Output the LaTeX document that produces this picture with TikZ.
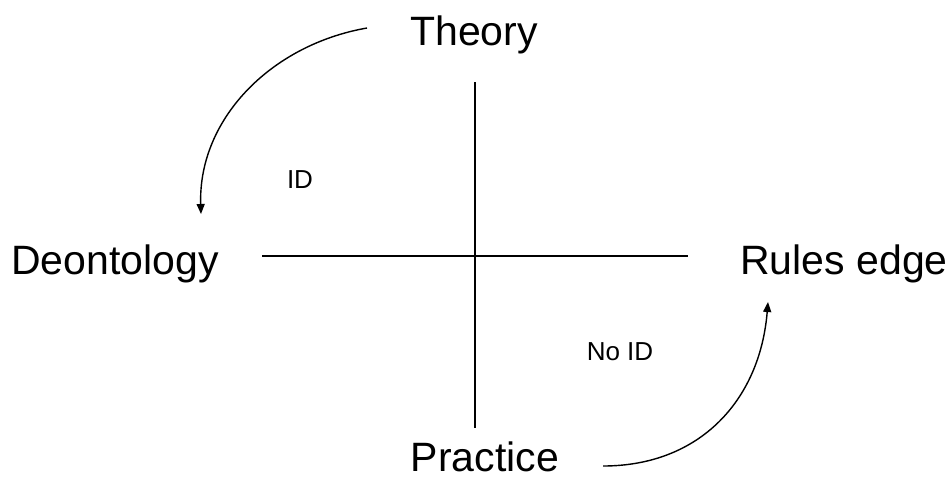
\documentclass[tikz,border=0pt]{standalone}
\usepackage{fontspec}
\setmainfont{Liberation Sans}
\usetikzlibrary{arrows.meta}

\tikzset{
  bigword/.style={font=\fontsize{41}{49}\selectfont, anchor=base, inner sep=0pt},
  smallword/.style={font=\fontsize{26}{31}\selectfont, anchor=base, inner sep=0pt},
  turn/.style={line width=1.4pt, -{Triangle[length=10pt,width=8pt]}}
}

\begin{document}
\begin{tikzpicture}[x=1pt,y=-1pt]
   \useasboundingbox (0,0) rectangle (952,480);
   % labels at the four ends
   \node[bigword] (theory)   at (474,45)  {Theory};
   \node[bigword] (deont)    at (115,274) {Deontology};
   \node[bigword] (rules)    at (844,274) {Rules edge};
   \node[bigword] (practice) at (485,471) {Practice};
   \node[smallword] (id)   at (300,188) {ID};
   \node[smallword] (noid) at (620,360) {No ID};
   % axes
   \coordinate (axtop)   at (475,82);
   \coordinate (axbot)   at (475,428);
   \coordinate (axleft)  at (262,256);
   \coordinate (axright) at (688,256);
   \draw[line width=1.5pt] (axtop) -- (axbot);
   \draw[line width=1.5pt] (axleft) -- (axright);
   % the two turns
   \coordinate (tstart) at (367,28);
   \coordinate (tend)   at (201,214);
   \coordinate (pstart) at (603,466);
   \coordinate (pend)   at (768,302);
   \draw[turn] (tstart) .. controls (270,45) and (198,120) .. (tend);
   \draw[turn] (pstart) .. controls (700,466) and (760,400) .. (pend);
\end{tikzpicture}
\end{document}
